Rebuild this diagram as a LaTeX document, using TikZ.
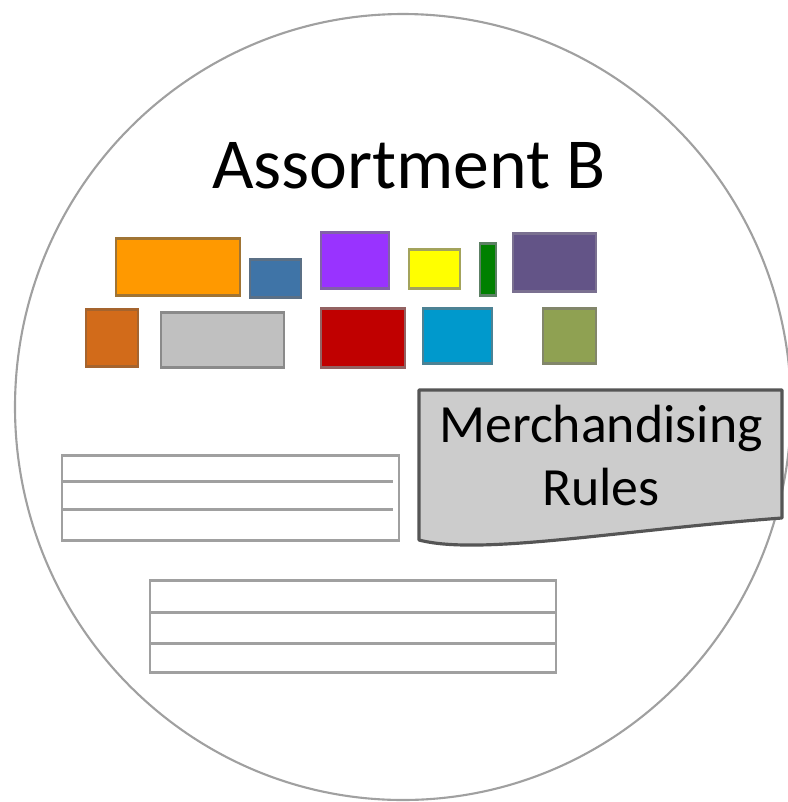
\documentclass[tikz,border=0pt]{standalone}
\usepackage{fontspec}
\setmainfont{Carlito}
\usetikzlibrary{calc,positioning}
% colours of the item boxes
\definecolor{cOrange}{HTML}{FF9900}   \definecolor{dOrange}{HTML}{A07434}
\definecolor{cSteel}{HTML}{3F74A7}    \definecolor{dSteel}{HTML}{5B7086}
\definecolor{cViolet}{HTML}{9933FF}   \definecolor{dViolet}{HTML}{8260A8}
\definecolor{cYellow}{HTML}{FFFF00}   \definecolor{dYellow}{HTML}{A3A35C}
\definecolor{cGreen}{HTML}{008000}    \definecolor{dGreen}{HTML}{5C8064}
\definecolor{cPlum}{HTML}{635487}     \definecolor{dPlum}{HTML}{7A7090}
\definecolor{cRust}{HTML}{D26B1A}     \definecolor{dRust}{HTML}{A5642E}
\definecolor{cSilver}{HTML}{C0C0C0}   \definecolor{dSilver}{HTML}{8A8A8A}
\definecolor{cRed}{HTML}{C00000}      \definecolor{dRed}{HTML}{936262}
\definecolor{cCyan}{HTML}{0099CC}     \definecolor{dCyan}{HTML}{4C8294}
\definecolor{cOlive}{HTML}{8FA152}    \definecolor{dOlive}{HTML}{82866A}
\definecolor{ringgray}{HTML}{A0A0A0}
\definecolor{listgray}{HTML}{A0A0A0}
\definecolor{notegray}{HTML}{555555}
\definecolor{notefill}{HTML}{CCCCCC}
\tikzset{
    myring/.style={draw=ringgray,line width=0.6pt},
    myitem/.style={line width=0.85pt},
    mylist/.style={draw=listgray,line width=0.85pt},
    mynote/.style={draw=notegray,fill=notefill,line width=0.9pt,line join=round},
    every node/.style={inner sep=0pt,text=black}
}

\begin{document}
\begin{tikzpicture}[x=0.01cm,y=-0.01cm]
  \useasboundingbox (0,0) rectangle (788,802);

  % 外圈
  \draw[myring] (403,407) ellipse [x radius=388,y radius=393];

  % 标题
  \node[font=\fontsize{20.4}{24}\selectfont,anchor=base]
    (title) at (409,188) {Assortment B};

  % 商品块
  \foreach \xa/\ya/\xb/\yb/\fc/\dc in {
      116/238/240/295/cOrange/dOrange,
      250/259/301/297/cSteel/dSteel,
      321/232/389/288/cViolet/dViolet,
      409/249/460/288/cYellow/dYellow,
      480/243/496/295/cGreen/dGreen,
      513/233/596/291/cPlum/dPlum,
      86/309/138/366/cRust/dRust,
      161/312/284/367/cSilver/dSilver,
      321/308/405/367/cRed/dRed,
      423/308/492/363/cCyan/dCyan,
      543/308/596/363/cOlive/dOlive}{
    \filldraw[myitem,fill=\fc,draw=\dc] (\xa,\ya) rectangle (\xb,\yb);
  }

  % 规则文档
  \coordinate (N1) at (419,390);
  \coordinate (N2) at (782,390);
  \coordinate (N3) at (782,518);
  \coordinate (N4) at (419,540);
  \filldraw[mynote]
    (N1) -- (N2) -- (N3)
    .. controls (620,530) and (480,556) .. (N4) -- cycle;
  \node[font=\fontsize{15.3}{18}\selectfont,anchor=base]
    (merch) at (601,442) {Merchandising};
  \node[font=\fontsize{15.3}{18}\selectfont,anchor=base]
    (rules) at (601,505) {Rules};

  % 列表框
  \draw[mylist] (62,455) rectangle (399,540);
  \draw[mylist] (62,481) -- (393,481);
  \draw[mylist] (62,509) -- (393,509);

  \draw[mylist] (150,580) rectangle (556,672);
  \draw[mylist] (150,612) -- (556,612);
  \draw[mylist] (150,643) -- (556,643);
\end{tikzpicture}
\end{document}
